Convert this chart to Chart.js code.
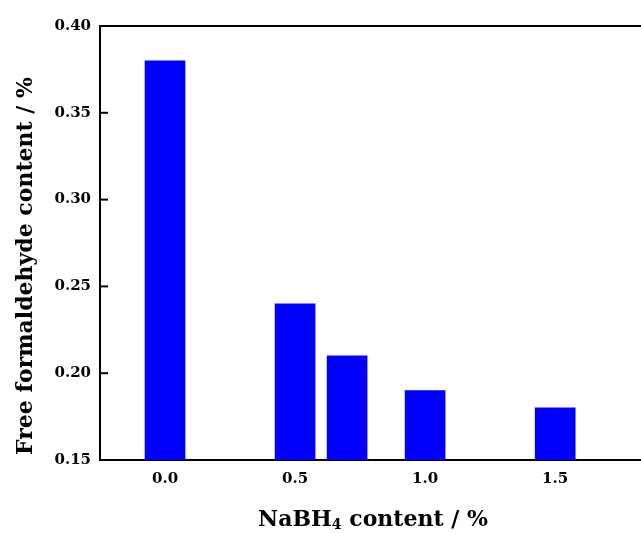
<!DOCTYPE html>
<html>
<head>
<meta charset="utf-8">
<script src="https://cdn.jsdelivr.net/npm/chart.js@4.4.1/dist/chart.umd.min.js"></script>
<style>
  html, body { margin: 0; padding: 0; background: #fff; }
  #wrap { width: 641px; height: 533px; position: relative; }
</style>
</head>
<body>
<div id="wrap"><canvas id="c" width="641" height="533"></canvas></div>
<script>
const nabh4Content = [0.0, 0.5, 0.7, 1.0, 1.5];
const formaldehyde = [0.38, 0.24, 0.21, 0.19, 0.18];
const xTickValues = [0.0, 0.5, 1.0, 1.5];
const yTickValues = [0.15, 0.20, 0.25, 0.30, 0.35, 0.40];
const xTitleParts = ["NaBH", "4", " content / %"];
const yTitle = "Free formaldehyde content / %";

const FONT = "'DejaVu Serif', serif";
const TICK_SIZE = 15;
const TITLE_SIZE = 22;

const points = nabh4Content.map((x, i) => ({ x: x, y: formaldehyde[i] }));

const framePlugin = {
  id: 'frame',
  afterDraw(chart) {
    const ctx = chart.ctx;
    const a = chart.chartArea;
    const ys = chart.scales.y;
    ctx.save();
    ctx.strokeStyle = '#000';
    ctx.lineWidth = 2;
    // top border line
    ctx.beginPath();
    ctx.moveTo(a.left, a.top);
    ctx.lineTo(chart.width, a.top);
    ctx.stroke();
    // inward y ticks
    yTickValues.forEach(v => {
      const p = ys.getPixelForValue(v);
      ctx.beginPath();
      ctx.moveTo(a.left, p);
      ctx.lineTo(a.left + 8, p);
      ctx.stroke();
    });
    // x title with subscript
    ctx.fillStyle = '#000';
    ctx.textBaseline = 'alphabetic';
    const big = `bold ${TITLE_SIZE}px ${FONT}`;
    const small = `bold 14px ${FONT}`;
    ctx.font = big;
    const w0 = ctx.measureText(xTitleParts[0]).width;
    const w2 = ctx.measureText(xTitleParts[2]).width;
    ctx.font = small;
    const w1 = ctx.measureText(xTitleParts[1]).width;
    const total = w0 + w1 + w2;
    const cx = 373;
    let x = cx - total / 2;
    const base = 526;
    ctx.font = big;
    ctx.fillText(xTitleParts[0], x, base);
    x += w0;
    ctx.font = small;
    ctx.fillText(xTitleParts[1], x, base + 3);
    x += w1;
    ctx.font = big;
    ctx.fillText(xTitleParts[2], x, base);
    // y title rotated
    ctx.save();
    ctx.translate(26, 266);
    ctx.rotate(-Math.PI / 2);
    ctx.font = big;
    ctx.textAlign = 'center';
    ctx.textBaseline = 'middle';
    ctx.fillText(yTitle, 0, 0);
    ctx.restore();
    ctx.restore();
  }
};

new Chart(document.getElementById('c'), {
  type: 'bar',
  data: {
    datasets: [{
      data: points,
      backgroundColor: '#0000ff',
      borderWidth: 0,
      barThickness: 40
    }]
  },
  options: {
    responsive: false,
    animation: false,
    events: [],
    layout: { padding: { top: 26, right: 0, bottom: 0, left: 0 } },
    plugins: { legend: { display: false }, tooltip: { enabled: false }, title: { display: false } },
    scales: {
      x: {
        type: 'linear',
        min: -0.25,
        max: 1.83,
        offset: false,
        afterBuildTicks: (s) => { s.ticks = xTickValues.map(v => ({ value: v })); },
        afterFit: (s) => { s.height = 73; },
        grid: { display: false, drawTicks: false },
        border: { display: true, color: '#000', width: 2 },
        ticks: {
          padding: 10,
          color: '#000',
          font: { family: FONT, size: TICK_SIZE, weight: 'bold' },
          callback: (v) => Number(v).toFixed(1),
          maxRotation: 0
        }
      },
      y: {
        min: 0.15,
        max: 0.40,
        afterBuildTicks: (s) => { s.ticks = yTickValues.map(v => ({ value: v })); },
        afterFit: (s) => { s.width = 100; },
        grid: { display: false, drawTicks: false },
        border: { display: true, color: '#000', width: 2 },
        ticks: {
          padding: 9,
          color: '#000',
          font: { family: FONT, size: TICK_SIZE, weight: 'bold' },
          callback: (v) => Number(v).toFixed(2)
        }
      }
    }
  },
  plugins: [framePlugin]
});
</script>
</body>
</html>
